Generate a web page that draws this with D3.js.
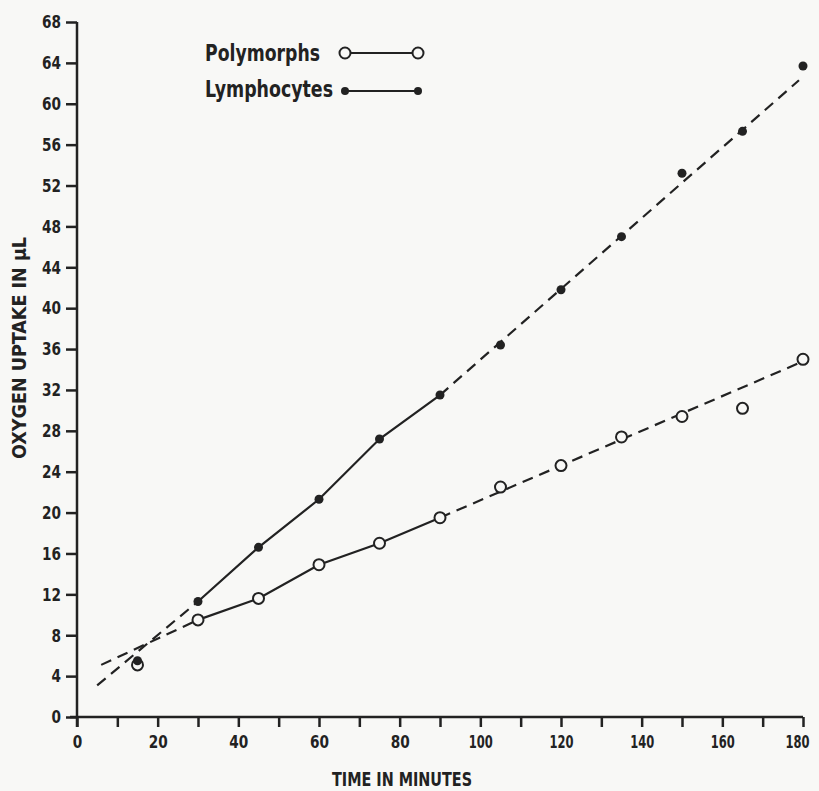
<!DOCTYPE html>
<html>
<head>
<meta charset="utf-8">
<script src="https://cdn.jsdelivr.net/npm/d3@7"></script>
<style>
    body { margin: 0; background: #f8f8f6; }
    svg { display: block; }
    .axis path, .axis line { stroke: #222; stroke-width: 2.5; }
    .axis text, .label, .legend_text {
        font-family: "DejaVu Sans Condensed", "Liberation Sans Narrow", sans-serif;
        font-stretch: condensed;
        font-weight: bold;
        fill: #222;
    }
</style>
</head>
<body>
<svg id="chart" width="819" height="791"></svg>
<script>
// sample times (minutes)
const times = [15, 30, 45, 60, 75, 90, 105, 120, 135, 150, 165, 180];
// oxygen uptake in uL
const lymphocytes = [5.5, 11.3, 16.6, 21.3, 27.2, 31.5, 36.4, 41.8, 47.0, 53.2, 57.3, 63.7];
const polymorphs = [5.1, 9.5, 11.6, 14.9, 17.0, 19.5, 22.5, 24.6, 27.4, 29.4, 30.2, 35.0];

// extrapolated (dashed) parts of the fitted lines, [time, uptake]
const lymphDashed = [[[5, 3.1], [30, 11.3]], [[90, 31.5], [179, 62.3]]];
const polyDashed = [[[6, 5.1], [30, 9.5]], [[90, 19.5], [180, 34.8]]];

// solid part runs over these times
const solidFrom = 30, solidTo = 90;

const xTicks = d3.range(0, 181, 10);
const yTicks = d3.range(0, 69, 4);

const svg = d3.select('#chart');

let x = d3.scaleLinear().domain([0, 180]).range([77, 803]);
let y = d3.scaleLinear().domain([0, 68]).range([717, 22]);

// narrow the tick labels like the condensed lettering of the original
function condense(sel) {
    sel.selectAll('text')
        .style('font-size', '18px')
        .filter(function () { return this.textContent != ''; })
        .attr('textLength', function () {
            let n = this.textContent.length;
            return n > 2 ? 24 : n * 9.5;
        })
        .attr('lengthAdjust', 'spacingAndGlyphs');
}

// axes
svg.append('g')
    .attr('class', 'axis')
    .attr('transform', 'translate(0,' + y(0) + ')')
    .call(d3.axisBottom(x).tickValues(xTicks).tickSize(10).tickSizeOuter(0).tickPadding(8)
        .tickFormat((d) => d % 20 == 0 ? d : ''))
    .call((g) => g.select('.domain').attr('d', 'M' + (x(0) - 7) + ',0H' + x(180)))
    .call(condense)
    // keep the last label inside the page edge
    .call((g) => g.selectAll('.tick text').filter((d) => d == 180)
        .attr('text-anchor', 'end').attr('x', 6));

svg.append('g')
    .attr('class', 'axis')
    .attr('transform', 'translate(' + x(0) + ',0)')
    .call(d3.axisLeft(y).tickValues(yTicks).tickSize(11).tickSizeOuter(0).tickPadding(5))
    .call((g) => g.select('.domain').attr('d', 'M0,' + y(68) + 'V' + (y(0) + 10)))
    .call(condense);

// axis titles
svg.append('text')
    .attr('class', 'label')
    .attr('x', 402)
    .attr('y', 786)
    .attr('text-anchor', 'middle')
    .attr('textLength', 140)
    .attr('lengthAdjust', 'spacingAndGlyphs')
    .style('font-size', '20px')
    .text('TIME IN MINUTES');

svg.append('text')
    .attr('class', 'label')
    .attr('transform', 'translate(26,348) rotate(-90)')
    .attr('text-anchor', 'middle')
    .attr('textLength', 222)
    .attr('lengthAdjust', 'spacingAndGlyphs')
    .style('font-size', '19px')
    .text('OXYGEN UPTAKE IN μL');

let line = d3.line().x((d) => x(d[0])).y((d) => y(d[1]));

function draw_series(values, dashed) {
    let pts = times.map((t, i) => [t, values[i]]);
    let solid = pts.filter((d) => d[0] >= solidFrom && d[0] <= solidTo);

    dashed.forEach((seg) => {
        svg.append('path')
            .attr('d', line(seg))
            .attr('fill', 'none')
            .attr('stroke', '#222')
            .attr('stroke-width', 2.2)
            .attr('stroke-dasharray', '11,7');
    });

    svg.append('path')
        .attr('d', line(solid))
        .attr('fill', 'none')
        .attr('stroke', '#222')
        .attr('stroke-width', 2.2);
    return pts;
}

let polyPts = draw_series(polymorphs, polyDashed);
let lymphPts = draw_series(lymphocytes, lymphDashed);

svg.append('g').selectAll('.poly_points')
    .data(polyPts)
    .enter()
    .append('circle')
    .attr('class', 'poly_points')
    .attr('cx', (d) => x(d[0]))
    .attr('cy', (d) => y(d[1]))
    .attr('r', 5.5)
    .style('fill', '#f8f8f6')
    .style('stroke', '#222')
    .style('stroke-width', 2);

svg.append('g').selectAll('.lymph_points')
    .data(lymphPts)
    .enter()
    .append('circle')
    .attr('class', 'lymph_points')
    .attr('cx', (d) => x(d[0]))
    .attr('cy', (d) => y(d[1]))
    .attr('r', 4.5)
    .style('fill', '#222');

// legend
let legend = svg.append('g');
let legendItems = [
    { name: 'Polymorphs', filled: false, ty: 61, ly: 53, len: 115 },
    { name: 'Lymphocytes', filled: true, ty: 97, ly: 91, len: 128 }
];

legendItems.forEach((d) => {
    legend.append('text')
        .attr('class', 'legend_text')
        .attr('x', 205)
        .attr('y', d.ty)
        .attr('textLength', d.len)
        .attr('lengthAdjust', 'spacingAndGlyphs')
        .style('font-size', '23px')
        .text(d.name);

    legend.append('line')
        .attr('x1', 345).attr('x2', 418)
        .attr('y1', d.ly).attr('y2', d.ly)
        .attr('stroke', '#222')
        .attr('stroke-width', 2);

    legend.selectAll(null)
        .data([345, 418])
        .enter()
        .append('circle')
        .attr('cx', (v) => v)
        .attr('cy', d.ly)
        .attr('r', d.filled ? 4 : 5.5)
        .style('fill', d.filled ? '#222' : '#f8f8f6')
        .style('stroke', '#222')
        .style('stroke-width', d.filled ? 0 : 2);
});
</script>
</body>
</html>
